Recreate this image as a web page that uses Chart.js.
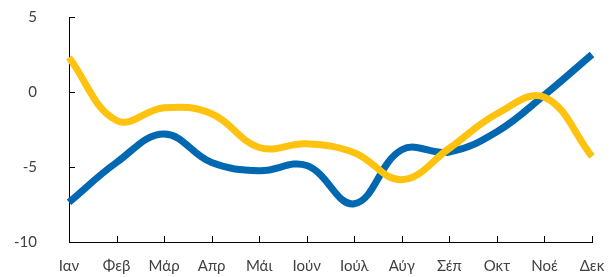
<!DOCTYPE html>
<html>
<head>
<meta charset="utf-8">
<script src="https://cdn.jsdelivr.net/npm/chart.js@4"></script>
<style>
  html, body { margin: 0; padding: 0; background: #fff; }
  #wrap { width: 611px; height: 277px; }
</style>
</head>
<body>
<div id="wrap"><canvas id="chart"></canvas></div>
<script>
const months = ['Ιαν', 'Φεβ', 'Μάρ', 'Απρ', 'Μάι', 'Ιούν', 'Ιούλ', 'Αύγ', 'Σέπ', 'Οκτ', 'Νοέ', 'Δεκ'];
const yellowSeries = [2.3, -1.9, -1.05, -1.45, -3.7, -3.45, -4.05, -5.85, -3.75, -1.45, -0.35, -4.3];
const blueSeries = [-7.35, -4.7, -2.8, -4.7, -5.25, -4.9, -7.45, -3.85, -4.0, -2.65, -0.2, 2.5];
const yTicks = [-10, -5, 0, 5];

// inward tick marks on both axes
const innerTicks = {
  id: 'innerTicks',
  afterDraw(chart) {
    const ctx = chart.ctx;
    const x = chart.scales.x, y = chart.scales.y;
    ctx.save();
    ctx.strokeStyle = '#000';
    ctx.lineWidth = 1;
    ctx.beginPath();
    x.ticks.forEach((t, i) => {
      const px = Math.round(x.getPixelForTick(i)) + 0.5;
      ctx.moveTo(px, y.bottom);
      ctx.lineTo(px, y.bottom - 6);
    });
    y.ticks.forEach((t, i) => {
      const py = Math.round(y.getPixelForTick(i)) + 0.5;
      ctx.moveTo(x.left, py);
      ctx.lineTo(x.left + 6, py);
    });
    ctx.stroke();
    ctx.restore();
  }
};

new Chart(document.getElementById('chart'), {
  type: 'line',
  data: {
    labels: months,
    datasets: [
      {
        data: yellowSeries,
        borderColor: '#FFC20E',
        borderWidth: 7,
        pointRadius: 0,
        tension: 0.4,
        fill: false
      },
      {
        data: blueSeries,
        borderColor: '#0067B1',
        borderWidth: 7,
        pointRadius: 0,
        tension: 0.4,
        fill: false
      }
    ]
  },
  options: {
    responsive: true,
    maintainAspectRatio: false,
    animation: false,
    layout: { padding: { left: 12, right: 19, top: 17, bottom: 2 } },
    plugins: { legend: { display: false }, tooltip: { enabled: false } },
    scales: {
      x: {
        offset: false,
        afterFit: s => { s.height = 33; s.paddingLeft = 0; s.paddingRight = 0; },
        grid: { display: true, drawOnChartArea: false, drawTicks: false },
        border: { display: true, color: '#000', width: 1 },
        ticks: { padding: 15, color: '#404040', font: { family: 'Lato', size: 15 }, maxRotation: 0, autoSkip: false }
      },
      y: {
        min: yTicks[0],
        max: yTicks[yTicks.length - 1],
        afterBuildTicks: scale => { scale.ticks = yTicks.map(v => ({ value: v })); },
        afterFit: s => { s.width = 57; s.paddingTop = 0; s.paddingBottom = 0; },
        grid: { display: true, drawOnChartArea: false, drawTicks: false },
        border: { display: true, color: '#000', width: 1 },
        ticks: { padding: 32, color: '#404040', font: { family: 'Lato', size: 15 } }
      }
    }
  },
  plugins: [innerTicks]
});
</script>
</body>
</html>
